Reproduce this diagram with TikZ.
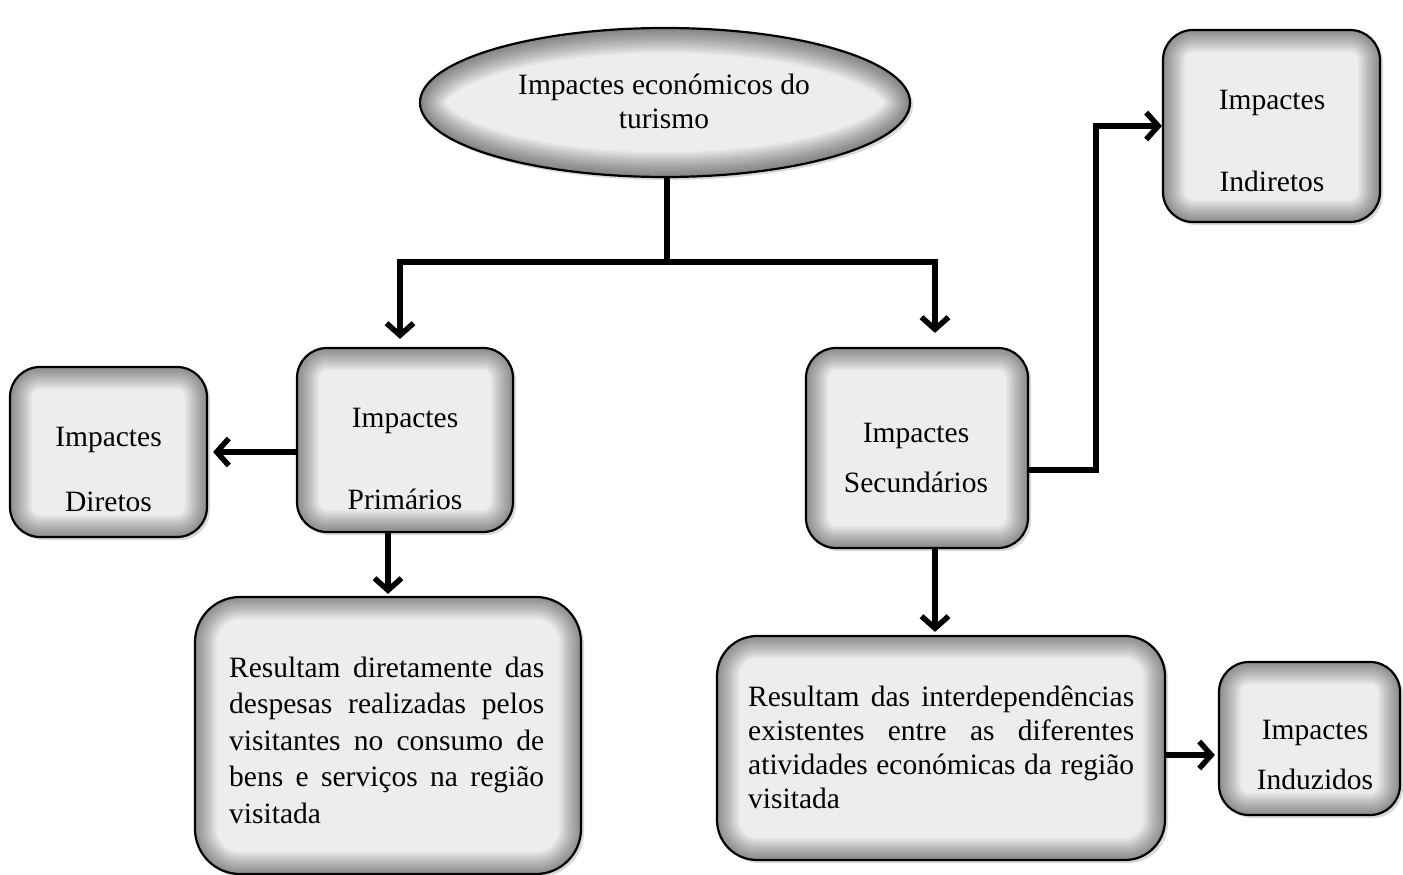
\documentclass[tikz,border=0pt]{standalone}
\usepackage{fontspec}
\setmainfont{Liberation Serif}
\usetikzlibrary{shapes.geometric,shadows,arrows.meta,calc}
\begin{document}
\begin{tikzpicture}[x=1pt,y=-1pt,
  shapebase/.style={draw=black, line width=2.2pt, inner sep=0pt, fill=black!7,
    drop shadow={opacity=0.3, shadow xshift=3pt, shadow yshift=-3pt}},
  box/.style={shapebase, rectangle, rounded corners=#1,
    path picture={\foreach \w in {2,5,...,44}
      \draw[line width=\w pt, black, opacity=0.032, rounded corners=#1]
        (path picture bounding box.south west) rectangle (path picture bounding box.north east);}},
  box/.default=30pt,
  ellbox/.style={shapebase, ellipse,
    path picture={\foreach \w in {2,5,...,50}
      \draw[line width=\w pt, black, opacity=0.032]
        (path picture bounding box.center) ellipse [x radius=245pt, y radius=74.5pt];}},
  lbl/.style={font=\fontsize{29.5}{34}\selectfont, inner sep=0pt, anchor=base},
  para/.style={inner sep=0pt, align=justify, anchor=base west},
  conn/.style={line width=5.5pt},
  arr/.style={conn, -{Straight Barb[length=12pt,width=27pt]}}]
\useasboundingbox (0,0) rectangle (1403,875);

% shapes
\node[ellbox, minimum width=490pt, minimum height=149pt] (ell) at (665,102.5) {};
\node[box, minimum width=217pt, minimum height=192pt] (ind) at (1271.5,126) {};
\node[box, minimum width=197pt, minimum height=170pt] (dir) at (108.5,452) {};
\node[box, minimum width=216pt, minimum height=184pt] (prim) at (405,440) {};
\node[box, minimum width=222pt, minimum height=200pt] (sec) at (917,448) {};
\node[box=45pt, minimum width=386pt, minimum height=277pt] (ptext) at (388,735.5) {};
\node[box=40pt, minimum width=448pt, minimum height=224pt] (stext) at (941,748) {};
\node[box, minimum width=181pt, minimum height=153pt] (indz) at (1309.5,738.5) {};

% labels
\node[lbl] (ellA) at (664,95) {Impactes económicos do};
\node[lbl] (ellB) at (664,128) {turismo};
\node[lbl] (indA) at (1272,109) {Impactes};
\node[lbl] (indB) at (1272,191) {Indiretos};
\node[lbl] (dirA) at (108.5,446) {Impactes};
\node[lbl] (dirB) at (108.5,511) {Diretos};
\node[lbl] (primA) at (405,427) {Impactes};
\node[lbl] (primB) at (405,509) {Primários};
\node[lbl] (secA) at (916,442) {Impactes};
\node[lbl] (secB) at (916,492) {Secundários};
\node[lbl] (indzA) at (1315,739) {Impactes};
\node[lbl] (indzB) at (1315,789) {Induzidos};

\node[para, text width=315pt, font=\fontsize{29.5}{36.6}\selectfont] (pA) at (229,677)
  {Resultam diretamente das\linebreak despesas realizadas pelos\linebreak visitantes no consumo de\linebreak bens e serviços na região\linebreak visitada};
\node[para, text width=386pt, font=\fontsize{29.5}{34}\selectfont] (pB) at (748,706)
  {Resultam das interdependências\linebreak existentes entre as diferentes\linebreak atividades económicas da região\linebreak visitada};

% connectors
\coordinate (bar) at (667,262);
\draw[conn] (ell.south -| bar) -- (bar);
\draw[arr] ([xshift=2.75pt]bar) -| ([xshift=-5pt,yshift=8pt]prim.north);
\draw[arr] ([xshift=-2.75pt]bar) -| ([xshift=18pt,yshift=14pt]sec.north);
\draw[arr] (prim.west |- dir.east) -- ([xshift=5pt]dir.east);
\draw[arr] (ptext.north |- prim.south) -- ([yshift=2pt]ptext.north);
\coordinate (sdown) at ([xshift=18pt]sec.south);
\draw[arr, shorten >=3pt] (sdown) -- (sdown |- stext.north);
\draw[arr] ([yshift=-22pt]sec.east) -- ++(67,0) |- (ind.west);
\coordinate (sr) at ([yshift=-7pt]stext.east);
\draw[arr, shorten >=3pt] (sr) -- (sr -| indz.west);
\end{tikzpicture}
\end{document}
